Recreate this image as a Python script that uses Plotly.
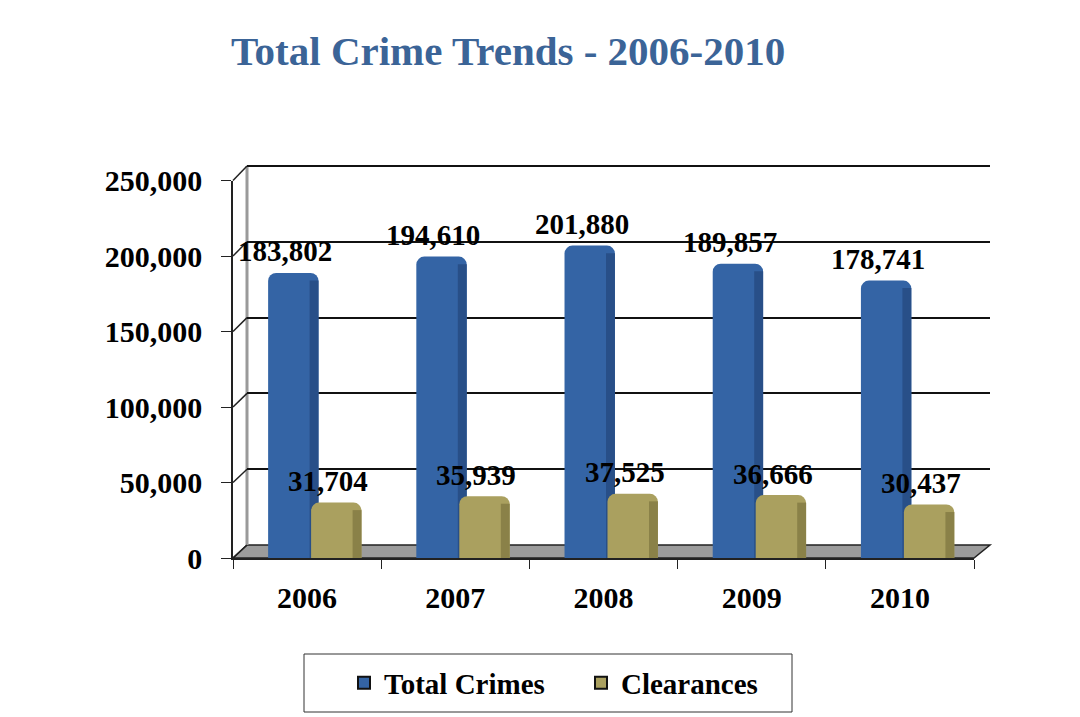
import plotly.graph_objects as go

# ---- data ----
years = ["2006", "2007", "2008", "2009", "2010"]
total_crimes = [183802, 194610, 201880, 189857, 178741]
clearances = [31704, 35939, 37525, 36666, 30437]
y_ticks = [0, 50000, 100000, 150000, 200000, 250000]
y_tick_labels = ["0", "50,000", "100,000", "150,000", "200,000", "250,000"]

W, H = 1080, 717
OFF = 8  # browser body margin
FONT = "Liberation Serif"
BLUE = "#3464A5"
BLUE_SIDE = "#284F88"
GOLD = "#AAA05F"
GOLD_SIDE = "#8A8148"
TITLE_COL = "#3B6497"
CAP = 5000  # visual depth of the 3D bar tops (in value units)

# pixel geometry of front (axes) and back wall, in screenshot pixels
FX0, FX1, FY0, FY1 = 233, 974, 558, 180.5
BX0, BX1, BY0, BY1 = 247, 990, 545, 166


def px(x):
    return (x - OFF) / W


def py(y):
    return 1 - (y - OFF) / H


fig = go.Figure()

# invisible trace to hold back-wall axes
fig.add_trace(go.Scatter(x=[0], y=[0], xaxis="x", yaxis="y", mode="markers",
                         marker=dict(opacity=0), showlegend=False, hoverinfo="skip"))

BW = 0.34
for vals, off, face, side in ((total_crimes, -0.263, BLUE, BLUE_SIDE),
                              (clearances, 0.027, GOLD, GOLD_SIDE)):
    # front face including the rounded 3D top
    fig.add_trace(go.Bar(
        x=years, y=[v + CAP for v in vals], xaxis="x2", yaxis="y2",
        showlegend=False, hoverinfo="skip",
        marker=dict(color=face, line=dict(width=0), cornerradius=8), width=BW, offset=off,
    ))
    # shaded right side
    fig.add_trace(go.Bar(
        x=years, y=vals, xaxis="x2", yaxis="y2", showlegend=False, hoverinfo="skip",
        marker=dict(color=side, line=dict(width=0)), width=0.06, offset=off + BW - 0.06,
    ))

# legend-only entries
for name, face in (("Total Crimes", BLUE), ("Clearances", GOLD)):
    fig.add_trace(go.Scatter(
        x=[None], y=[None], xaxis="x2", yaxis="y2", mode="markers", name=name,
        marker=dict(symbol="square", size=17, color=face, line=dict(color="#111111", width=2)),
    ))

annotations = []
for series, xs in ((total_crimes, -22), (clearances, 21)):
    for i, v in enumerate(series):
        annotations.append(dict(
            x=i, y=v, xref="x2", yref="y2", text=f"{v:,}", showarrow=False,
            xshift=xs, yshift=29, yanchor="middle", xanchor="center",
            font=dict(family=FONT, size=29, color="black", weight="bold"),
        ))

annotations.append(dict(
    x=px(508), y=py(51), xref="paper", yref="paper", xanchor="center", yanchor="middle",
    text="Total Crime Trends - 2006-2010", showarrow=False,
    font=dict(family=FONT, size=41, color=TITLE_COL, weight="bold"),
))

# 3D frame shapes
shapes = []
shapes.append(dict(
    type="path", xref="paper", yref="paper", layer="below",
    path=(f"M {px(FX0)},{py(FY0)} L {px(FX1)},{py(FY0)} L {px(BX1)},{py(BY0)} "
          f"L {px(BX0)},{py(BY0)} Z"),
    fillcolor="#9C9C9C", line=dict(color="#222222", width=1.5),
))
shapes.append(dict(type="line", xref="paper", yref="paper", layer="below",
                   x0=px(BX0), x1=px(BX0), y0=py(BY0), y1=py(BY1),
                   line=dict(color="#9A9A9A", width=3)))
shapes.append(dict(type="line", xref="paper", yref="paper", layer="below",
                   x0=px(BX0), x1=px(BX1), y0=py(BY1), y1=py(BY1),
                   line=dict(color="#111111", width=2)))
for t in y_ticks:
    fy = FY0 + (FY1 - FY0) * t / 250000
    by = BY0 + (BY1 - BY0) * t / 250000
    shapes.append(dict(type="line", xref="paper", yref="paper", layer="below",
                       x0=px(FX0), x1=px(BX0), y0=py(fy), y1=py(by),
                       line=dict(color="#222222", width=1.5)))
# legend frame
shapes.append(dict(type="rect", xref="paper", yref="paper", layer="below",
                   x0=px(304), x1=px(792), y0=py(712), y1=py(654),
                   line=dict(color="#333333", width=1), fillcolor="white"))

fig.update_layout(
    width=W, height=H,
    margin=dict(l=0, r=0, t=0, b=0, autoexpand=False),
    paper_bgcolor="white", plot_bgcolor="rgba(0,0,0,0)",
    barmode="overlay",
    showlegend=True,
    font=dict(family=FONT, color="black"),
    xaxis=dict(domain=[px(BX0), px(BX1)], anchor="y", range=[0, 1],
               showgrid=False, zeroline=False, showticklabels=False, showline=False),
    yaxis=dict(domain=[py(BY0), py(BY1)], anchor="x", range=[0, 250000],
               tickvals=y_ticks, showgrid=True, gridcolor="#111111", gridwidth=2,
               zeroline=False, showticklabels=False, showline=False),
    xaxis2=dict(domain=[px(FX0), px(FX1)], anchor="y2", range=[-0.5, 4.5],
                type="category", tickson="boundaries", ticks="outside", ticklen=9,
                tickcolor="#222222", showline=True, linecolor="#222222", linewidth=1.5,
                showgrid=False, zeroline=False, ticklabelstandoff=12,
                tickfont=dict(family=FONT, size=30, color="black", weight="bold")),
    yaxis2=dict(domain=[py(FY0), py(FY1)], anchor="x2", range=[0, 250000],
                tickvals=y_ticks, ticktext=y_tick_labels, ticks="outside", ticklen=10,
                tickcolor="#222222", showline=True, linecolor="#222222", linewidth=1.5,
                showgrid=False, zeroline=False, ticklabelstandoff=13,
                tickfont=dict(family=FONT, size=30, color="black", weight="bold")),
    legend=dict(orientation="h", x=px(344), y=py(683), xanchor="left", yanchor="middle",
                borderwidth=0, bgcolor="rgba(0,0,0,0)",
                entrywidth=192, entrywidthmode="pixels",
                font=dict(family=FONT, size=29, color="black", weight="bold"),
                itemsizing="constant"),
    annotations=annotations,
    shapes=shapes,
)

fig.write_html("out.html")
